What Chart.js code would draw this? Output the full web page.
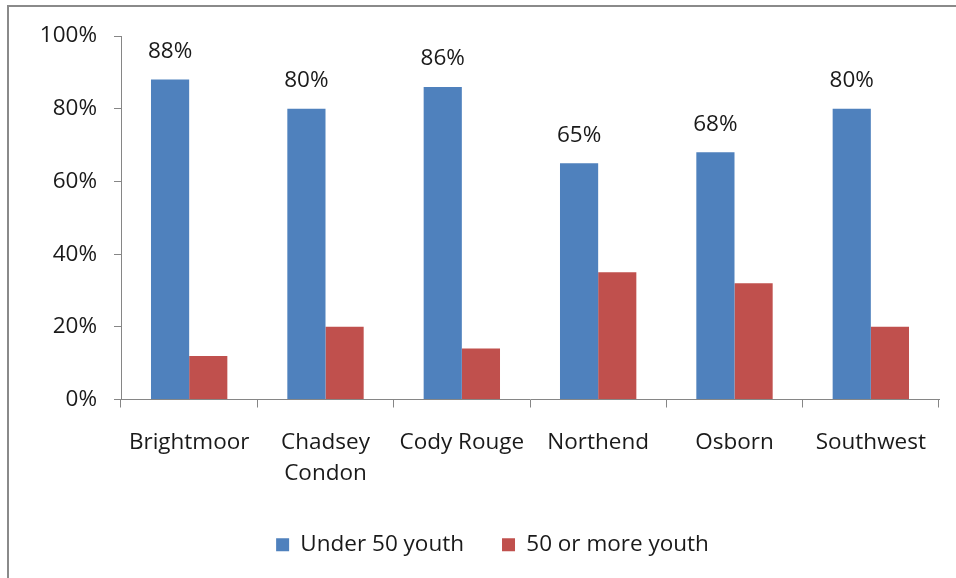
<!DOCTYPE html>
<html>
<head>
<meta charset="utf-8">
<script src="https://cdn.jsdelivr.net/npm/chart.js@4/dist/chart.umd.min.js"></script>
<style>
    html, body { margin: 0; padding: 0; background: #fff; overflow: hidden; }
    #wrap { position: relative; width: 956px; height: 578px; }
    #frame { position: absolute; left: 7px; top: 5px; width: 2000px; height: 2000px; border: 2px solid #8a8a8a; }
    #chart { position: absolute; left: 0; top: 0; }
</style>
</head>
<body>
<div id="wrap">
    <div id="frame"></div>
    <canvas id="chart" width="956" height="578"></canvas>
</div>
<script>
const areas = ['Brightmoor', ['Chadsey', 'Condon'], 'Cody Rouge', 'Northend', 'Osborn', 'Southwest'];
const under50 = [88, 80, 86, 65, 68, 80];
const over50 = [12, 20, 14, 35, 32, 20];
const yTicks = [0, 20, 40, 60, 80, 100];

const FONT = '"Open Sans", Lato, sans-serif';
const SIZE = 22.5;
const TEXT = '#1a1a1a';
const AXIS = '#868686';

// percent labels above the first series only
const barLabels = {
    id: 'barLabels',
    afterDatasetsDraw(chart) {
        const ctx = chart.ctx;
        const meta = chart.getDatasetMeta(0);
        ctx.save();
        ctx.font = SIZE + 'px ' + FONT;
        ctx.fillStyle = TEXT;
        ctx.textAlign = 'center';
        ctx.textBaseline = 'middle';
        meta.data.forEach((bar, i) => {
            ctx.fillText(under50[i] + '%', bar.x, bar.y - 28);
        });
        ctx.restore();
    }
};

// centre the legend under the plot area rather than the whole canvas
const legendShift = {
    id: 'legendShift',
    afterLayout(chart) {
        if (chart.legend) chart.legend.left += 46;
    }
};

const ctx = document.getElementById('chart').getContext('2d');
new Chart(ctx, {
    type: 'bar',
    data: {
        labels: areas,
        datasets: [{
            label: 'Under 50 youth',
            data: under50,
            backgroundColor: '#4F81BD',
            borderWidth: 0
        }, {
            label: '50 or more youth',
            data: over50,
            backgroundColor: '#C0504D',
            borderWidth: 0
        }]
    },
    options: {
        responsive: false,
        animation: false,
        layout: { padding: { left: 0, top: 36, right: 17, bottom: 12 } },
        datasets: { bar: { categoryPercentage: 0.56, barPercentage: 1 } },
        plugins: {
            tooltip: { enabled: false },
            legend: {
                position: 'bottom',
                labels: {
                    boxWidth: 13,
                    boxHeight: 13,
                    padding: 38,
                    color: TEXT,
                    font: { family: FONT, size: SIZE }
                }
            }
        },
        scales: {
            x: {
                offset: true,
                border: { color: AXIS, width: 1 },
                grid: { offset: true, drawOnChartArea: false, color: AXIS, tickLength: 8 },
                ticks: {
                    color: TEXT,
                    padding: 19,
                    maxRotation: 0,
                    font: { family: FONT, size: SIZE, lineHeight: 1.4 }
                },
                afterFit(scale) { scale.height = 96; }
            },
            y: {
                min: 0,
                max: 100,
                border: { color: AXIS, width: 1 },
                grid: { drawOnChartArea: false, color: AXIS, tickLength: 7 },
                ticks: {
                    stepSize: 20,
                    color: TEXT,
                    padding: 17,
                    font: { family: FONT, size: SIZE },
                    callback: v => yTicks.includes(v) ? v + '%' : ''
                },
                afterFit(scale) { scale.width = 121; }
            }
        }
    },
    plugins: [barLabels, legendShift]
});
</script>
</body>
</html>
